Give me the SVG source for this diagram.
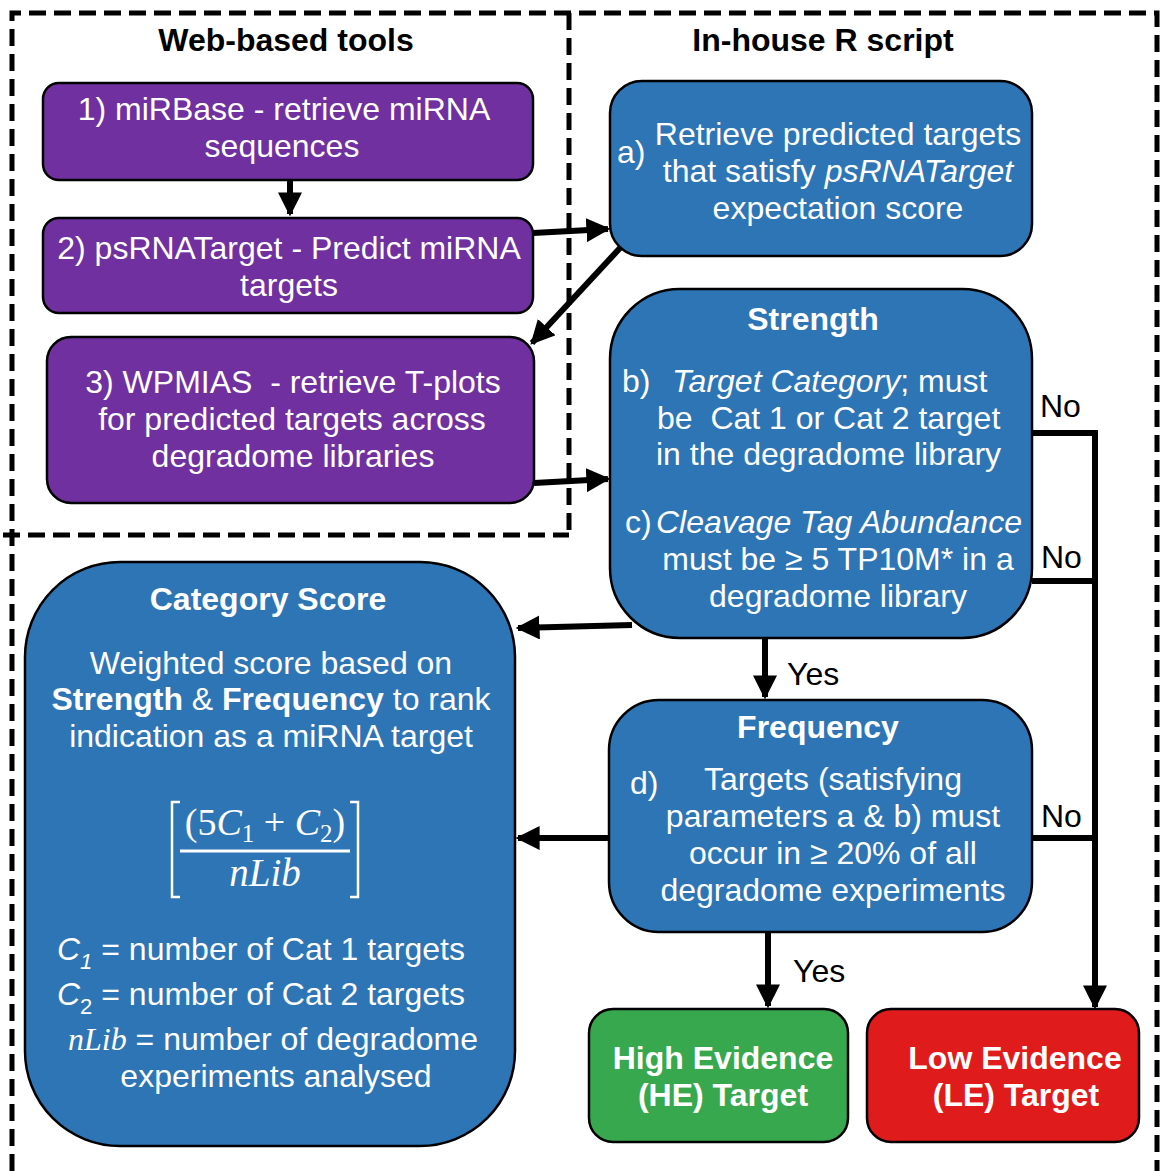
<svg xmlns="http://www.w3.org/2000/svg" width="1161" height="1171" viewBox="0 0 1161 1171">
<defs>
<style>
text{font-family:"Liberation Sans",Arial,sans-serif;font-size:32px;fill:#fff}
.b{font-weight:bold}
.k{fill:#000}
.c{text-anchor:middle}
.i{font-style:italic}
.m{font-family:"Liberation Serif","DejaVu Serif",serif;font-style:italic}
.dash{fill:none;stroke:#000;stroke-width:5;stroke-dasharray:17 8}
.purple{fill:#7030A0;stroke:#000;stroke-width:2.5}
.blue{fill:#2E75B6;stroke:#000;stroke-width:2.5}
.conn{fill:none;stroke:#000;stroke-width:6}
</style>
<marker id="ah" viewBox="0 0 10 10" refX="9" refY="5" markerWidth="4" markerHeight="4" orient="auto" markerUnits="strokeWidth">
<path d="M0,0 L10,5 L0,10 z" fill="#000"/>
</marker>
</defs>
<rect width="1161" height="1171" fill="#fff"/>
<g id="borders">
<path class="dash" d="M12,1171 V13 H1157 V1171"/>
<path class="dash" d="M569,13 V535"/>
<path class="dash" d="M3,535 H569"/>
</g>
<g id="titles">
<text class="b k c" x="286" y="51">Web-based tools</text>
<text class="b k c" x="823" y="51">In-house R script</text>
</g>
<g id="connectors">
<line class="conn" x1="290" y1="180" x2="290" y2="214" marker-end="url(#ah)"/>
<line class="conn" x1="533" y1="233" x2="608" y2="229" marker-end="url(#ah)"/>
<line class="conn" x1="620" y1="248" x2="532" y2="343" marker-end="url(#ah)"/>
<line class="conn" x1="534" y1="483" x2="608" y2="479" marker-end="url(#ah)"/>
<line class="conn" x1="632" y1="625" x2="518" y2="628" marker-end="url(#ah)"/>
<line class="conn" x1="765" y1="638" x2="765" y2="697" marker-end="url(#ah)"/>
<line class="conn" x1="609" y1="838" x2="518" y2="838" marker-end="url(#ah)"/>
<line class="conn" x1="768" y1="932" x2="768" y2="1006" marker-end="url(#ah)"/>
<polyline class="conn" points="1032,433 1095,433 1095,1007" marker-end="url(#ah)"/>
<line class="conn" x1="1032" y1="581" x2="1098" y2="581"/>
<line class="conn" x1="1032" y1="838" x2="1095" y2="838"/>
<text class="k" x="787" y="685">Yes</text>
<text class="k" x="793" y="982">Yes</text>
<text class="k" x="1040" y="417">No</text>
<text class="k" x="1041" y="568">No</text>
<text class="k" x="1041" y="827">No</text>
</g>
<g id="node1">
<rect class="purple" x="43" y="83" width="490" height="97" rx="16"/>
<text class="c" x="284" y="120">1) miRBase - retrieve miRNA</text>
<text class="c" x="282" y="157">sequences</text>
</g>
<g id="node2">
<rect class="purple" x="43" y="218" width="490" height="95" rx="16"/>
<text class="c" x="289" y="259">2) psRNATarget - Predict miRNA</text>
<text class="c" x="289" y="296">targets</text>
</g>
<g id="node3">
<rect class="purple" x="47" y="337" width="487" height="166" rx="24"/>
<text class="c" x="293" y="393" xml:space="preserve">3) WPMIAS  - retrieve T-plots</text>
<text class="c" x="292" y="430">for predicted targets across</text>
<text class="c" x="293" y="467">degradome libraries</text>
</g>
<g id="nodeA">
<rect class="blue" x="610" y="81" width="422" height="175" rx="32"/>
<text x="617" y="163">a)</text>
<text class="c" x="838" y="145">Retrieve predicted targets</text>
<text class="c" x="838" y="182">that satisfy <tspan class="i">psRNATarget</tspan></text>
<text class="c" x="838" y="219">expectation score</text>
</g>
<g id="strength">
<rect class="blue" x="610" y="289" width="422" height="349" rx="70"/>
<text class="b c" x="813" y="330">Strength</text>
<text x="622" y="392">b)</text>
<text x="672" y="392"><tspan class="i">Target Category</tspan>; must</text>
<text x="657" y="429" xml:space="preserve">be  Cat 1 or Cat 2 target</text>
<text x="656" y="465">in the degradome library</text>
<text x="625" y="533">c)</text>
<text class="i" x="656" y="533">Cleavage Tag Abundance</text>
<text class="c" x="838" y="570">must be ≥ 5 TP10M* in a</text>
<text class="c" x="838" y="607">degradome library</text>
</g>
<g id="category">
<rect class="blue" x="25" y="562" width="490" height="584" rx="95"/>
<text class="b c" x="268" y="610">Category Score</text>
<text class="c" x="271" y="674">Weighted score based on</text>
<text class="c" x="271" y="710"><tspan class="b">Strength</tspan> &amp; <tspan class="b">Frequency</tspan> to rank</text>
<text class="c" x="271" y="747">indication as a miRNA target</text>
<path d="M180,802 H172 V897 H180 M350,802 H358 V897 H350" fill="none" stroke="#fff" stroke-width="2.5"/>
<line x1="180" y1="851" x2="350" y2="851" stroke="#fff" stroke-width="3"/>
<text class="c" x="265" y="835" style="font-family:'Liberation Serif','DejaVu Serif',serif;font-size:38px"><tspan>(5</tspan><tspan class="i">C</tspan><tspan font-size="25" dy="7">1</tspan><tspan dy="-7"> + </tspan><tspan class="i">C</tspan><tspan font-size="25" dy="7">2</tspan><tspan dy="-7">)</tspan></text>
<text class="m c" x="265" y="886" style="font-size:39px">nLib</text>
<text x="57" y="960"><tspan class="i">C</tspan><tspan class="i" font-size="22" dy="9">1</tspan><tspan dy="-9"> = number of Cat 1 targets</tspan></text>
<text x="57" y="1005"><tspan class="i">C</tspan><tspan font-size="22" dy="9">2</tspan><tspan dy="-9"> = number of Cat 2 targets</tspan></text>
<text x="68" y="1050"><tspan class="m">nLib</tspan> = number of degradome</text>
<text class="c" x="276" y="1087">experiments analysed</text>
</g>
<g id="frequency">
<rect class="blue" x="609" y="700" width="423" height="232" rx="50"/>
<text class="b c" x="818" y="738">Frequency</text>
<text x="630" y="794">d)</text>
<text class="c" x="833" y="790">Targets (satisfying</text>
<text class="c" x="833" y="827">parameters a &amp; b) must</text>
<text class="c" x="833" y="864">occur in ≥ 20% of all</text>
<text class="c" x="833" y="901">degradome experiments</text>
</g>
<g id="he">
<rect x="589" y="1009" width="259" height="133" rx="24" fill="#38A84E" stroke="#000" stroke-width="2.5"/>
<text class="b c" x="723" y="1069">High Evidence</text>
<text class="b c" x="723" y="1106">(HE) Target</text>
</g>
<g id="le">
<rect x="867" y="1009" width="272" height="133" rx="24" fill="#E01B1B" stroke="#000" stroke-width="2.5"/>
<text class="b c" x="1015" y="1069">Low Evidence</text>
<text class="b c" x="1016" y="1106">(LE) Target</text>
</g>
</svg>
